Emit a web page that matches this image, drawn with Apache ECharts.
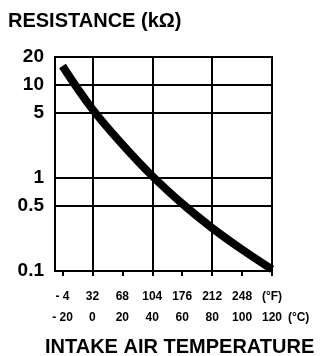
<!DOCTYPE html>
<html>
<head>
<meta charset="utf-8">
<script src="https://cdn.jsdelivr.net/npm/echarts@6/dist/echarts.min.js"></script>
<style>
html,body{margin:0;padding:0;background:#fff;}
#chart{width:336px;height:356px;}
</style>
</head>
<body>
<div id="chart"></div>
<script>
const tempC = [-20, 0, 20, 40, 60, 80, 100, 120];
const resistance = [16, 5.5, 2.3, 1.05, 0.53, 0.29, 0.17, 0.104];
const yTicks = [0.1, 0.5, 1, 5, 10, 20];
const cTicks = [-20, 0, 20, 40, 60, 80, 100, 120];
const fLabels = ['- 4', '32', '68', '104', '176', '212', '248', '(°F)'];
const cLabels = ['- 20', '0', '20', '40', '60', '80', '100', '120'];
const cUnit = '(°C)';
const gridC = [0, 40, 80];

const FONT = '"Liberation Sans", Arial, sans-serif';
const chart = echarts.init(document.getElementById('chart'));
const lblIdx = (arr, v) => { const i = cTicks.indexOf(Math.round(v)); return i >= 0 ? arr[i] : ''; };

chart.setOption({
  animation: false,
  backgroundColor: '#fff',
  title: [
    { text: 'RESISTANCE (kΩ)', left: 3, top: 6,
      textStyle: { fontFamily: FONT, fontWeight: 'bold', fontSize: 20, color: '#000' } },
    { text: 'INTAKE AIR TEMPERATURE', left: 40, top: 332,
      textStyle: { fontFamily: FONT, fontWeight: 'bold', fontSize: 20, color: '#000' } }
  ],
  grid: { left: 55, right: 64, top: 57, bottom: 85, show: true, borderColor: '#000', borderWidth: 2, backgroundColor: 'transparent' },
  xAxis: [
    { type: 'value', min: -25, max: 120, position: 'bottom',
      axisLine: { show: true, lineStyle: { color: '#000', width: 2 } },
      axisTick: { show: true, customValues: cTicks, length: 5, inside: false, lineStyle: { color: '#000', width: 2 } },
      axisLabel: { customValues: cTicks, margin: 20, interval: 0, showMaxLabel: true, hideOverlap: false, formatter: v => lblIdx(fLabels, v),
        fontFamily: FONT, fontWeight: 'bold', fontSize: 12, color: '#000' },
      splitLine: { show: false } },
    { type: 'value', min: -25, max: 120, position: 'bottom',
      name: cUnit, nameLocation: 'end', nameGap: 13,
      nameTextStyle: { fontFamily: FONT, fontWeight: 'bold', fontSize: 12, color: '#000', verticalAlign: 'top', padding: [41, 0, 0, 0] },
      axisLine: { show: false }, axisTick: { show: false, customValues: cTicks },
      axisLabel: { customValues: cTicks, margin: 41, interval: 0, showMaxLabel: true, showMinLabel: true, hideOverlap: false, formatter: v => lblIdx(cLabels, v),
        fontFamily: FONT, fontWeight: 'bold', fontSize: 12, color: '#000' },
      splitLine: { show: false } },
    { type: 'value', min: -25, max: 120, position: 'bottom',
      axisLine: { show: false }, axisTick: { show: false, customValues: gridC },
      axisLabel: { show: false, customValues: gridC },
      splitLine: { show: true, lineStyle: { color: '#000', width: 2 } } }
  ],
  yAxis: {
    type: 'log', logBase: 10, min: 0.1, max: 20,
    axisLine: { show: true, lineStyle: { color: '#000', width: 2 } },
    axisTick: { show: true, customValues: yTicks, length: 5, inside: false, lineStyle: { color: '#000', width: 2 } },
    axisLabel: { customValues: yTicks, margin: 11, formatter: v => String(v),
      fontFamily: FONT, fontWeight: 'bold', fontSize: 19, color: '#000' },
    splitLine: { show: true, lineStyle: { color: '#000', width: 2 } }
  },
  series: [{
    type: 'line', xAxisIndex: 0, smooth: 0.4, showSymbol: false,
    lineStyle: { color: '#000', width: 8, cap: 'butt' },
    data: tempC.map((t, i) => [t, resistance[i]])
  }]
});
</script>
</body>
</html>
